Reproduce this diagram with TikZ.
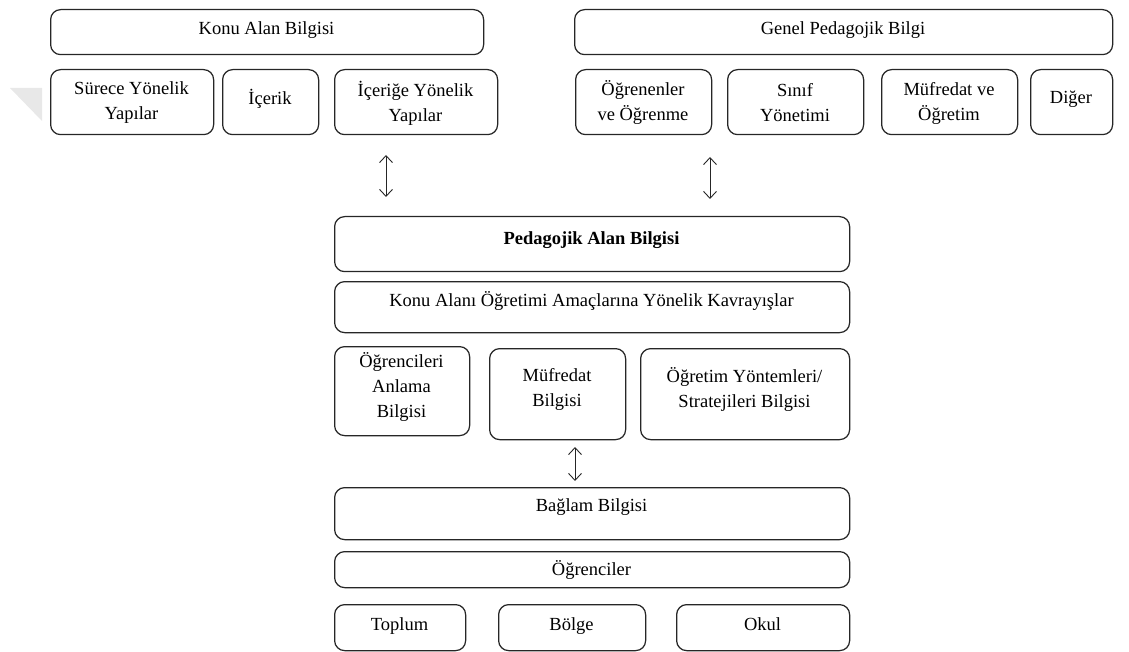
\documentclass[tikz,border=0pt]{standalone}
\usepackage{fontspec}
\setmainfont{Liberation Serif}
\usetikzlibrary{arrows.meta}
\begin{document}
\begin{tikzpicture}[x=1pt,y=-1pt,
  box/.style={draw=black!85, line width=1.25pt, rounded corners=10pt,
    inner sep=0pt, anchor=north west},
  lbl/.style={align=center, inner sep=0pt,
    font=\fontsize{18.5}{25}\selectfont},
  one/.style={lbl, text height=13pt, text depth=4pt},
  dbl/.style={{Straight Barb[length=7pt,width=13pt]}-{Straight Barb[length=7pt,width=13pt]},
    line width=0.9pt, draw=black!85},
  wmshade/.style={fill=black!9, draw=none}]
\useasboundingbox (0,0) rectangle (1129,652);

% faint mark at the left edge
\fill[wmshade] (10,88) -- (42,88) -- (42,121) -- cycle;

% --- content knowledge ---
\node[box, minimum width=433pt, minimum height=45pt] (kab) at (50,9) {};
\node[one] (kabt) at (266.5,30) {Konu Alan Bilgisi};
\node[box, minimum width=163pt, minimum height=65pt] (sur) at (50,69) {};
\node[lbl] (surt) at (131.5,103) {Sürece Yönelik\\Yapılar};
\node[box, minimum width=96pt, minimum height=65pt] (ice) at (222,69) {};
\node[one] (icet) at (270,100) {İçerik};
\node[box, minimum width=163pt, minimum height=65pt] (icy) at (334,69) {};
\node[lbl] (icyt) at (415.5,103) {İçeriğe Yönelik\\Yapılar};

% --- general pedagogical knowledge ---
\node[box, minimum width=538pt, minimum height=45pt] (gpb) at (574,9) {};
\node[one] (gpbt) at (843,30) {Genel Pedagojik Bilgi};
\node[box, minimum width=136pt, minimum height=65pt] (ogr) at (575,69) {};
\node[lbl] (ogrt) at (643,103) {Öğrenenler\\ve Öğrenme};
\node[box, minimum width=136pt, minimum height=65pt] (sin) at (727,69) {};
\node[lbl] (sint) at (795,103) {Sınıf\\Yönetimi};
\node[box, minimum width=136pt, minimum height=65pt] (muf) at (881,69) {};
\node[lbl] (muft) at (949,103) {Müfredat ve\\Öğretim};
\node[box, minimum width=82pt, minimum height=65pt] (dig) at (1030,69) {};
\node[one] (digt) at (1071,99.5) {Diğer};

% --- pedagogical content knowledge ---
\node[box, minimum width=515pt, minimum height=55pt] (pab) at (334,216) {};
\node[one, font=\fontsize{18.5}{25}\selectfont\bfseries] (pabt) at (591.5,239.5) {Pedagojik Alan Bilgisi};
\node[box, minimum width=515pt, minimum height=51pt] (kao) at (334,281) {};
\node[one] (kaot) at (591.5,302) {Konu Alanı Öğretimi Amaçlarına Yönelik Kavrayışlar};
\node[box, minimum width=135pt, minimum height=89pt] (oab) at (334,346) {};
\node[lbl] (oabt) at (401.5,387.5) {Öğrencileri\\Anlama\\Bilgisi};
\node[box, minimum width=136pt, minimum height=91pt] (mfb) at (489,348) {};
\node[lbl] (mfbt) at (557,389.5) {Müfredat\\Bilgisi};
\node[box, minimum width=209pt, minimum height=91pt] (oys) at (640,348) {};
\node[lbl] (oyst) at (744.5,389.5) {Öğretim Yöntemleri/\\Stratejileri Bilgisi};

% --- context knowledge ---
\node[box, minimum width=515pt, minimum height=52pt] (bag) at (334,487) {};
\node[one] (bagt) at (591.5,507) {Bağlam Bilgisi};
\node[box, minimum width=515pt, minimum height=36pt] (ogc) at (334,551) {};
\node[one] (ogct) at (591.5,571) {Öğrenciler};
\node[box, minimum width=131pt, minimum height=46pt] (top) at (334,604) {};
\node[one] (topt) at (399.5,626) {Toplum};
\node[box, minimum width=147pt, minimum height=46pt] (bol) at (498,604) {};
\node[one] (bolt) at (571.5,626) {Bölge};
\node[box, minimum width=173pt, minimum height=46pt] (oku) at (676,604) {};
\node[one] (okut) at (762.5,626) {Okul};

% --- two-way links ---
\coordinate (l1a) at (386,155);
\coordinate (l1b) at (386,197);
\coordinate (l2a) at (710,157);
\coordinate (l2b) at (710,199);
\coordinate (l3a) at (575,447);
\coordinate (l3b) at (575,481);
\draw[dbl] (l1a) -- (l1b);
\draw[dbl] (l2a) -- (l2b);
\draw[dbl] (l3a) -- (l3b);
\end{tikzpicture}
\end{document}
